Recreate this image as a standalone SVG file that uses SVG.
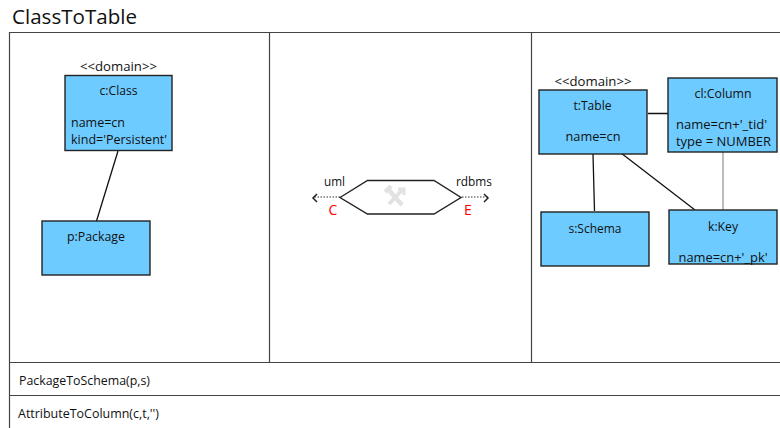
<svg xmlns="http://www.w3.org/2000/svg" width="780" height="428" viewBox="0 0 780 428">
<style>
text{font-family:"Open Sans","Noto Sans","Liberation Sans",sans-serif;font-size:13px;fill:#111}
.n{fill:#6ecbff;stroke:#222;stroke-width:1.4}
.f{fill:none;stroke:#444;stroke-width:1.2}
.c{stroke:#111;stroke-width:1.3;fill:none}
.m{text-anchor:middle}
</style>
<rect width="780" height="428" fill="#fff"/>
<text x="12" y="24" style="font-size:20px" textLength="125" lengthAdjust="spacingAndGlyphs">ClassToTable</text>
<g id="frame" class="f">
<path d="M780 32.500H9.500V428M269.500 32.500V362M531.500 32.500V362M9.500 362.500H780M9.500 395.500H780"/>
</g>
<g id="connectors">
<path class="c" d="M118 151L96.500 221M593 154L594.500 211M621 153L695 210M648 113.500H668"/>
<path d="M723 152V210" stroke="#999" stroke-width="1.3" fill="none"/>
<path d="M340 197H314M462 197H488" stroke="#333" stroke-width="1.2" stroke-dasharray="1.500 1.500" fill="none"/>
<path d="M317 194L313 198L317 202M484 194L488 198L484 202" stroke="#222" stroke-width="1.500" fill="none"/>
</g>
<g id="c-class">
<text x="118.500" y="71" class="m" textLength="77" lengthAdjust="spacingAndGlyphs">&lt;&lt;domain&gt;&gt;</text>
<rect class="n" x="65" y="75.500" width="107" height="75"/>
<text x="118.500" y="95" class="m" textLength="38" lengthAdjust="spacingAndGlyphs">c:Class</text>
<text x="71" y="127" textLength="54" lengthAdjust="spacingAndGlyphs">name=cn</text>
<text x="71" y="144" textLength="96" lengthAdjust="spacingAndGlyphs">kind='Persistent'</text>
</g>
<g id="p-package">
<rect class="n" x="42" y="221" width="108" height="54"/>
<text x="96" y="241" class="m" textLength="58" lengthAdjust="spacingAndGlyphs">p:Package</text>
</g>
<g id="relation">
<path d="M340 197.500L367.500 180.500H434L461 197.500L434 214H367.500Z" fill="#fff" stroke="#222" stroke-width="1.400"/>
<g stroke="#e2e2e2" fill="none">
<path d="M388 189L402 205" stroke-width="4.500"/>
<path d="M402 190L389 204" stroke-width="4"/>
<path d="M385 192L391 186" stroke-width="4.500"/>
<path d="M398 189L404 189L404 195" stroke-width="3"/>
</g>
<text x="334.500" y="186" class="m" textLength="21" lengthAdjust="spacingAndGlyphs">uml</text>
<text x="474" y="186" class="m" textLength="36" lengthAdjust="spacingAndGlyphs">rdbms</text>
<text x="333" y="214.500" class="m" style="fill:#f00;font-size:14px">C</text>
<text x="468" y="214.500" class="m" style="fill:#f00;font-size:14px">E</text>
</g>
<g id="t-table">
<text x="593" y="86" class="m" textLength="77" lengthAdjust="spacingAndGlyphs">&lt;&lt;domain&gt;&gt;</text>
<rect class="n" x="539" y="90" width="108" height="64"/>
<text x="592.500" y="110" class="m" textLength="38" lengthAdjust="spacingAndGlyphs">t:Table</text>
<text x="593" y="141" class="m" textLength="55" lengthAdjust="spacingAndGlyphs">name=cn</text>
</g>
<g id="cl-column">
<rect class="n" x="668" y="78" width="109" height="74"/>
<text x="723" y="98" class="m" textLength="57" lengthAdjust="spacingAndGlyphs">cl:Column</text>
<text x="676" y="129" textLength="91" lengthAdjust="spacingAndGlyphs">name=cn+'_tid'</text>
<text x="676" y="146" textLength="95" lengthAdjust="spacingAndGlyphs">type = NUMBER</text>
</g>
<g id="s-schema">
<rect class="n" x="541" y="212" width="108" height="54"/>
<text x="595" y="233" class="m" textLength="53" lengthAdjust="spacingAndGlyphs">s:Schema</text>
</g>
<g id="k-key">
<rect class="n" x="669" y="210" width="108" height="54"/>
<text x="723" y="231" class="m" textLength="30" lengthAdjust="spacingAndGlyphs">k:Key</text>
<text x="723" y="262" class="m" textLength="89" lengthAdjust="spacingAndGlyphs">name=cn+'_pk'</text>
</g>
<text x="19" y="385" textLength="131" lengthAdjust="spacingAndGlyphs">PackageToSchema(p,s)</text>
<text x="18" y="418" textLength="141" lengthAdjust="spacingAndGlyphs">AttributeToColumn(c,t,'')</text>
</svg>
